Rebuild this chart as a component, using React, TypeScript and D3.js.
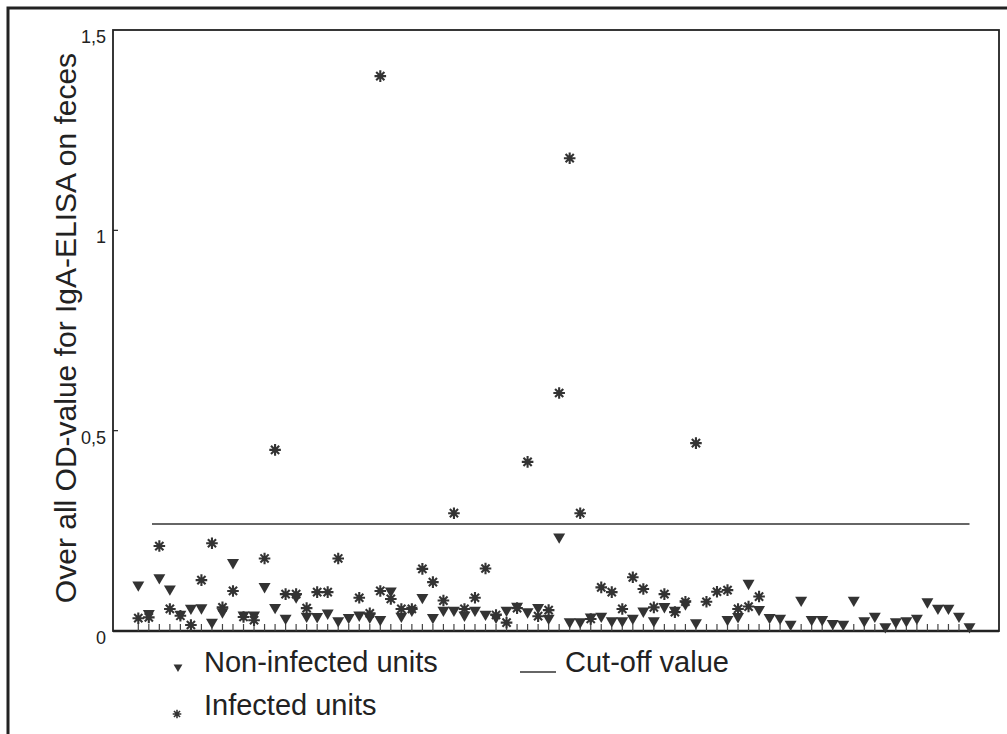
import React, { useEffect, useRef } from "react"
import * as d3 from "d3"

const W = 1007
const H = 734

// one tick per unit along the x axis
const unitCount = 80

// OD-value of the non-infected units, by unit (null = no triangle drawn)
const nonInfectedOD: (number | null)[] = [
    0.115, 0.044, 0.133, 0.105, 0.042, 0.057, 0.058, 0.022, 0.048, 0.171,
    0.040, 0.040, 0.111, 0.059, 0.032, 0.085, 0.037, 0.036, 0.045, 0.026,
    0.034, 0.040, 0.035, 0.029, 0.100, 0.037, 0.052, 0.084, 0.034, 0.052,
    0.052, 0.040, 0.052, 0.042, 0.035, 0.052, 0.062, 0.048, 0.059, 0.032,
    0.235, 0.023, 0.023, 0.035, 0.037, 0.026, 0.026, 0.032, 0.050, 0.026,
    0.061, 0.052, 0.068, 0.021, null, null, 0.029, 0.036, 0.119, 0.054,
    0.034, 0.032, 0.017, 0.077, 0.029, 0.029, 0.019, 0.017, 0.077, 0.026,
    0.037, 0.011, 0.023, 0.026, 0.032, 0.073, 0.057, 0.057, 0.037, 0.011,
]

// infected units: unit position and OD-value
const infectedUnits = [
    0, 1, 2, 3, 4, 5, 6, 7, 8, 9,
    10, 11, 12, 13, 14, 15, 16, 17, 18, 19,
    21, 22, 23, 23, 24, 25, 26, 27, 28, 29,
    30, 31, 32, 33, 34, 35, 36, 37, 38, 39,
    40, 41, 42, 43, 44, 45, 46, 47, 48, 49,
    50, 51, 52, 53, 54, 55, 56, 57, 58, 59,
]
const infectedOD = [
    0.032, 0.034, 0.212, 0.055, 0.038, 0.015, 0.127, 0.219, 0.059, 0.100,
    0.035, 0.027, 0.181, 0.452, 0.092, 0.092, 0.057, 0.097, 0.097, 0.181,
    0.083, 0.044, 0.100, 1.385, 0.080, 0.055, 0.055, 0.155, 0.122, 0.076,
    0.294, 0.055, 0.083, 0.156, 0.040, 0.021, 0.057, 0.422, 0.037, 0.052,
    0.594, 1.180, 0.294, 0.030, 0.109, 0.097, 0.055, 0.134, 0.105, 0.059,
    0.092, 0.047, 0.073, 0.469, 0.073, 0.098, 0.102, 0.055, 0.061, 0.086,
]

const cutOff = 0.267
const cutOffSpan = [1.3, 79]

const yTicks = [0, 0.5, 1, 1.5]
const yTickLabels = ["0", "0,5", "1", "1,5"]

const yLabel = "Over all OD-value for IgA-ELISA on feces"
const legendNonInfected = "Non-infected units"
const legendInfected = "Infected units"
const legendCutOff = "Cut-off value"

const ink = "#333"
const font = "'Liberation Sans', Arial, Helvetica, sans-serif"

// 8-armed asterisk like the one in the print
const asterisk = (r: number) => {
    const d = r * Math.SQRT1_2
    return `M${-r},0L${r},0M0,${-r}L0,${r}M${-d},${-d}L${d},${d}M${-d},${d}L${d},${-d}`
}
const triangle = d3.symbol().type(d3.symbolTriangle)

function Chart() {
    const ref = useRef<SVGSVGElement>(null)

    useEffect(() => {
        document.body.style.margin = "0"
        const svg = d3.select(ref.current)
        svg.selectAll("*").remove()

        const x = d3.scaleLinear().domain([0, unitCount - 1]).range([138.3, 969.5])
        const y = d3.scaleLinear().domain([0, 1.5]).range([631, 30])

        svg.append("rect").attr("width", W).attr("height", H).attr("fill", "#fff")

        // outer frame of the figure (runs past the cut edge)
        svg.append("rect")
            .attr("x", 8).attr("y", 8)
            .attr("width", W + 20).attr("height", H + 20)
            .attr("fill", "none").attr("stroke", "#222").attr("stroke-width", 3)

        // plot box
        svg.append("rect")
            .attr("x", 113).attr("y", y(1.5))
            .attr("width", 999 - 113).attr("height", y(0) - y(1.5))
            .attr("fill", "none").attr("stroke", "#222").attr("stroke-width", 1.8)
        svg.append("line")
            .attr("x1", 113).attr("x2", 999)
            .attr("y1", y(0)).attr("y2", y(0))
            .attr("stroke", "#222").attr("stroke-width", 2.4)

        // y ticks + labels
        const yAxis = svg.append("g")
        yAxis.selectAll("line.tick")
            .data(yTicks.filter(t => t > 0 && t < 1.5))
            .enter()
            .append("line")
            .attr("class", "tick")
            .attr("x1", 113).attr("x2", 118)
            .attr("y1", d => y(d)).attr("y2", d => y(d))
            .attr("stroke", "#222").attr("stroke-width", 1.2)
        yAxis.selectAll("text")
            .data(yTicks)
            .enter()
            .append("text")
            .attr("x", 106)
            .attr("y", d => y(d) + 13)
            .attr("text-anchor", "end")
            .attr("font-family", font)
            .attr("font-size", 18)
            .attr("fill", "#222")
            .text((d, i) => yTickLabels[i])

        svg.append("text")
            .attr("transform", `translate(76,${328}) rotate(-90)`)
            .attr("text-anchor", "middle")
            .attr("font-family", font)
            .attr("font-size", 30)
            .attr("fill", "#222")
            .text(yLabel)

        // one small tick per unit on the x axis
        svg.append("g")
            .selectAll("line")
            .data(d3.range(unitCount))
            .enter()
            .append("line")
            .attr("x1", d => x(d)).attr("x2", d => x(d))
            .attr("y1", y(0)).attr("y2", y(0) - 7)
            .attr("stroke", "#444").attr("stroke-width", 1.2)

        // cut-off
        svg.append("line")
            .attr("x1", x(cutOffSpan[0])).attr("x2", x(cutOffSpan[1]))
            .attr("y1", y(cutOff)).attr("y2", y(cutOff))
            .attr("stroke", "#333").attr("stroke-width", 1.5)

        // non-infected: down triangles
        const tri = nonInfectedOD
            .map((v, i) => ({ i, v }))
            .filter(d => d.v !== null) as { i: number; v: number }[]
        svg.append("g")
            .selectAll("path")
            .data(tri)
            .enter()
            .append("path")
            .attr("d", triangle.size(62)() as string)
            .attr("transform", d => `translate(${x(d.i)},${y(d.v)}) rotate(180)`)
            .attr("fill", ink)

        // infected: asterisks
        svg.append("g")
            .selectAll("path")
            .data(infectedUnits.map((u, k) => ({ u, v: infectedOD[k] })))
            .enter()
            .append("path")
            .attr("d", asterisk(5.8))
            .attr("transform", d => `translate(${x(d.u)},${y(d.v)})`)
            .attr("fill", "none")
            .attr("stroke", ink)
            .attr("stroke-width", 2.1)

        // legend
        const lg = svg.append("g").attr("font-family", font).attr("font-size", 29).attr("fill", "#222")
        lg.append("path")
            .attr("d", triangle.size(34)() as string)
            .attr("transform", "translate(178,667) rotate(180)")
            .attr("fill", ink)
        lg.append("text").attr("x", 204).attr("y", 672).text(legendNonInfected)
        lg.append("path")
            .attr("d", asterisk(4.3))
            .attr("transform", "translate(177,714)")
            .attr("fill", "none").attr("stroke", ink).attr("stroke-width", 1.6)
        lg.append("text").attr("x", 204).attr("y", 715).text(legendInfected)
        lg.append("line")
            .attr("x1", 520).attr("x2", 556)
            .attr("y1", 672).attr("y2", 672)
            .attr("stroke", "#333").attr("stroke-width", 1.5)
        lg.append("text").attr("x", 565).attr("y", 672).text(legendCutOff)
    }, [])

    return <svg ref={ref} width={W} height={H} style={{ display: "block" }} />
}

export default function App() {
    return <Chart />
}
